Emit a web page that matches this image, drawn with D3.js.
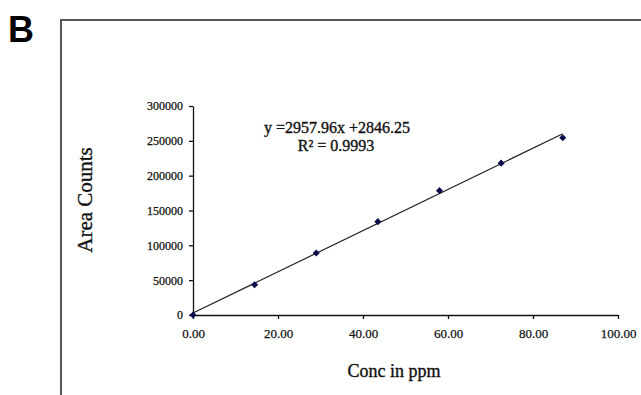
<!DOCTYPE html>
<html>
<head>
<meta charset="utf-8">
<script src="https://cdn.jsdelivr.net/npm/d3@7"></script>
<style>
  body { margin: 0; background: #fff; }
  svg { display: block; }
  .tick text { font-family: "Liberation Serif", serif; fill: #111; stroke: #111; stroke-width: 0.25; }
  .serif { stroke: #111; stroke-width: 0.35; }
</style>
</head>
<body>
<div id="chart"></div>
<script>
// calibration data
var conc = [0, 14.5, 29, 43.5, 58, 72.5, 87];
var area = [0, 43500, 89000, 134000, 178500, 218000, 254500];
var xTicks = [0, 20, 40, 60, 80, 100];
var yTicks = [0, 50000, 100000, 150000, 200000, 250000, 300000];
var slope = 2957.96, intercept = 2846.25;

var width = 641, height = 395;
var svg = d3.select('#chart').append('svg')
    .attr('width', width)
    .attr('height', height);

// panel frame
svg.append('path')
    .attr('d', 'M61,' + height + 'V20H' + width)
    .attr('fill', 'none')
    .attr('stroke', '#555')
    .attr('stroke-width', 2);

svg.append('text')
    .attr('x', 8).attr('y', 42)
    .attr('font-family', 'Liberation Sans, Arial, sans-serif')
    .attr('font-weight', 'bold')
    .attr('font-size', 36)
    .text('B');

var x = d3.scaleLinear().domain([0, 100]).range([193, 618]);
var y = d3.scaleLinear().domain([0, 300000]).range([315, 106]);

var xAxis = svg.append('g')
    .attr('transform', 'translate(0,315)')
    .call(d3.axisBottom(x).tickValues(xTicks).tickSize(4).tickSizeOuter(0)
        .tickFormat(d3.format('.2f')));
xAxis.selectAll('text').attr('font-size', 13).attr('dy', '1.2em');

var yAxis = svg.append('g')
    .attr('transform', 'translate(193,0)')
    .call(d3.axisLeft(y).tickValues(yTicks).tickSize(4).tickSizeOuter(0)
        .tickFormat(d3.format('d')));
yAxis.selectAll('text').attr('font-size', 12).attr('x', -10);

svg.selectAll('.domain, .tick line').attr('stroke', '#111').attr('stroke-width', 1.3);

// trend line
svg.append('line')
    .attr('x1', x(0)).attr('y1', y(intercept))
    .attr('x2', x(d3.max(conc))).attr('y2', y(slope * d3.max(conc) + intercept))
    .attr('stroke', '#222')
    .attr('stroke-width', 1.2);

// diamond markers
svg.selectAll('.pt')
    .data(conc)
    .enter().append('path')
    .attr('class', 'pt')
    .attr('d', d3.symbol().type(d3.symbolDiamond2).size(32))
    .attr('transform', function (d, i) { return 'translate(' + x(d) + ',' + y(area[i]) + ')'; })
    .attr('fill', '#0b0b4a');

// equation
var eq = svg.append('text')
    .attr('class', 'serif')
    .attr('font-family', 'Liberation Serif, serif')
    .attr('font-size', 16)
    .attr('text-anchor', 'middle')
    .attr('fill', '#111');
eq.append('tspan').attr('x', 337).attr('y', 133).text('y =2957.96x +2846.25');
eq.append('tspan').attr('x', 336).attr('y', 151).text('R² = 0.9993');

// axis titles
svg.append('text')
    .attr('class', 'serif')
    .attr('x', 394).attr('y', 377)
    .attr('text-anchor', 'middle')
    .attr('font-family', 'Liberation Serif, serif')
    .attr('font-size', 18)
    .attr('fill', '#111')
    .text('Conc in ppm');

svg.append('text')
    .attr('class', 'serif')
    .attr('transform', 'translate(92,200) rotate(-90)')
    .attr('text-anchor', 'middle')
    .attr('font-family', 'Liberation Serif, serif')
    .attr('font-size', 21)
    .attr('fill', '#111')
    .text('Area Counts');
</script>
</body>
</html>
